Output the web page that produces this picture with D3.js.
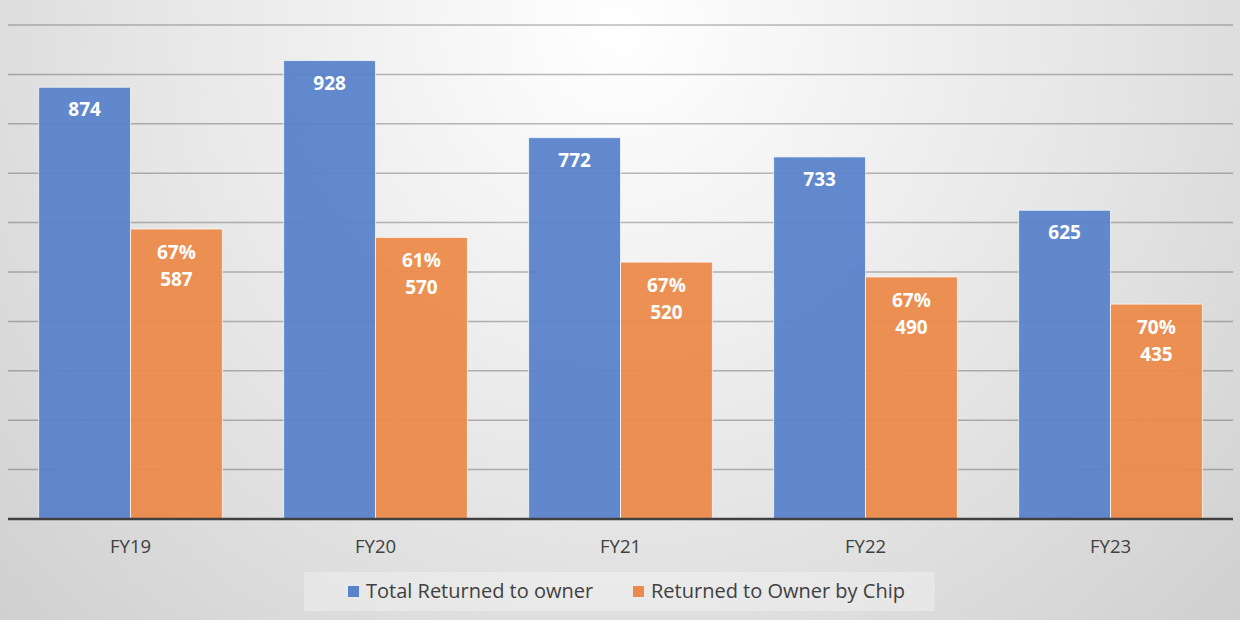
<!DOCTYPE html>
<html>
<head>
<meta charset="utf-8">
<script src="https://cdn.jsdelivr.net/npm/d3@7"></script>
<style>
  html, body { margin: 0; padding: 0; background: #fff; }
  svg { display: block; }
</style>
</head>
<body>
<div id="chart"></div>
<script>
const WIDTH = 1240;
const HEIGHT = 620;

const categories = ['FY19', 'FY20', 'FY21', 'FY22', 'FY23'];
const totalReturned = [874, 928, 772, 733, 625];
const chipReturned = [587, 570, 520, 490, 435];
const chipPct = ['67%', '61%', '67%', '67%', '70%'];
const seriesNames = ['Total Returned to owner', 'Returned to Owner by Chip'];
const yTicks = [100, 200, 300, 400, 500, 600, 700, 800, 900, 1000];

const COLORS = ['#5a83cb', '#ec8a4b'];
const FONT = "'Open Sans', 'Noto Sans', sans-serif";

const PLOT_LEFT = 8, PLOT_RIGHT = 1233;
const BASE_Y = 519, TOP_Y = 25;

const svg = d3.select('#chart').append('svg')
    .attr('width', WIDTH)
    .attr('height', HEIGHT);

// background gradient
const defs = svg.append('defs');
const grad = defs.append('radialGradient')
    .attr('id', 'bg')
    .attr('cx', '50%').attr('cy', '5%')
    .attr('r', '85%')
    .attr('gradientTransform', 'translate(0.5,0.05) scale(1,2) translate(-0.5,-0.05)');
grad.append('stop').attr('offset', '0%').attr('stop-color', '#ffffff');
grad.append('stop').attr('offset', '45%').attr('stop-color', '#e6e6e6');
grad.append('stop').attr('offset', '100%').attr('stop-color', '#c4c4c4');

svg.append('rect')
    .attr('width', WIDTH)
    .attr('height', HEIGHT)
    .attr('fill', 'url(#bg)');

const x0 = d3.scaleBand().domain(categories).range([PLOT_LEFT, PLOT_RIGHT]).paddingInner(0).paddingOuter(0);
const groupW = x0.bandwidth() * 0.75;
const x1 = d3.scaleBand().domain([0, 1]).range([0, groupW]);
const y = d3.scaleLinear().domain([0, 1000]).range([BASE_Y, TOP_Y]);

// gridlines
svg.append('g')
  .selectAll('line')
  .data(yTicks)
  .join('line')
    .attr('x1', PLOT_LEFT).attr('x2', PLOT_RIGHT)
    .attr('y1', d => y(d)).attr('y2', d => y(d))
    .attr('stroke', 'rgba(60,60,60,0.35)')
    .attr('stroke-width', 1.5);

// bars
const groups = svg.append('g')
  .selectAll('g')
  .data(categories)
  .join('g')
    .attr('transform', d => `translate(${x0(d) + (x0.bandwidth() - groupW) / 2},0)`);

groups.append('rect')
    .attr('x', x1(0))
    .attr('y', (d, i) => y(totalReturned[i]))
    .attr('width', x1.bandwidth())
    .attr('height', (d, i) => BASE_Y - y(totalReturned[i]))
    .attr('fill', COLORS[0])
    .attr('fill-opacity', 0.95)
    .attr('stroke', 'rgba(255,255,255,0.7)')
    .attr('stroke-width', 1);

groups.append('rect')
    .attr('x', x1(1))
    .attr('y', (d, i) => y(chipReturned[i]))
    .attr('width', x1.bandwidth())
    .attr('height', (d, i) => BASE_Y - y(chipReturned[i]))
    .attr('fill', COLORS[1])
    .attr('fill-opacity', 0.95)
    .attr('stroke', 'rgba(255,255,255,0.7)')
    .attr('stroke-width', 1);

// data labels
const labelStyle = sel => sel
    .attr('text-anchor', 'middle')
    .attr('fill', '#ffffff')
    .style('font-family', FONT)
    .style('font-size', '19px')
    .style('font-weight', 'bold');

groups.append('text')
    .attr('x', x1(0) + x1.bandwidth() / 2)
    .attr('y', (d, i) => y(totalReturned[i]) + 29)
    .call(labelStyle)
    .text((d, i) => totalReturned[i]);

groups.append('text')
    .attr('x', x1(1) + x1.bandwidth() / 2)
    .attr('y', (d, i) => y(chipReturned[i]) + 30)
    .call(labelStyle)
    .text((d, i) => chipPct[i]);

groups.append('text')
    .attr('x', x1(1) + x1.bandwidth() / 2)
    .attr('y', (d, i) => y(chipReturned[i]) + 57)
    .call(labelStyle)
    .text((d, i) => chipReturned[i]);

// baseline / x axis
const xAxis = svg.append('g')
    .attr('transform', `translate(0,${BASE_Y})`)
    .call(d3.axisBottom(x0).tickSize(0).tickPadding(21));
xAxis.select('.domain')
    .attr('d', `M${PLOT_LEFT},0H${PLOT_RIGHT}`)
    .attr('stroke', '#404040')
    .attr('stroke-width', 2.5);
xAxis.selectAll('text')
    .attr('fill', '#404040')
    .style('font-family', FONT)
    .style('font-size', '18.5px');

// legend
const legend = svg.append('g');
legend.append('rect')
    .attr('x', 304).attr('y', 572)
    .attr('width', 631).attr('height', 39)
    .attr('fill', 'rgba(255,255,255,0.3)');

const legendX = [348, 633];
seriesNames.forEach((name, i) => {
    legend.append('rect')
        .attr('x', legendX[i]).attr('y', 586)
        .attr('width', 11).attr('height', 11)
        .attr('fill', COLORS[i]);
    legend.append('text')
        .attr('x', legendX[i] + 18).attr('y', 598)
        .attr('fill', '#404040')
        .style('font-family', FONT)
        .style('font-size', '20px')
        .text(name);
});
</script>
</body>
</html>
